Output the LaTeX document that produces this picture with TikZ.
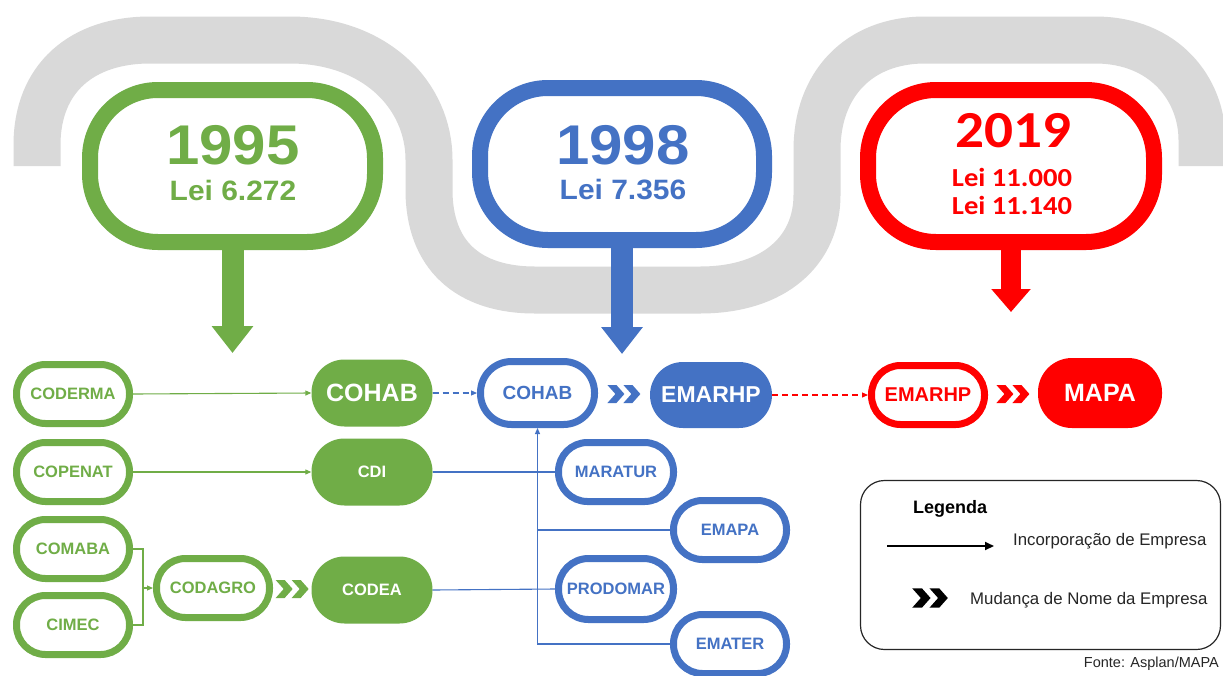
\documentclass[tikz,border=0pt]{standalone}
\usepackage{fontspec}
\setmainfont{Liberation Sans}
\newfontfamily\calib{Carlito}
\usetikzlibrary{arrows.meta,calc}
\definecolor{gg}{HTML}{70AD47}
\definecolor{bb}{HTML}{4472C4}
\definecolor{rr}{HTML}{FF0000}
\definecolor{band}{HTML}{D9D9D9}
\definecolor{legtxt}{HTML}{262626}
\begin{document}
\begin{tikzpicture}[x=1pt,y=-1pt,
  outl/.style={draw=#1, line width=7pt, fill=white, rounded corners=29pt,
    minimum width=113pt, minimum height=59pt, text=#1, inner sep=0pt,
    font=\bfseries\fontsize{16.5}{18}\selectfont},
  filld/.style={fill=#1, text=white, rounded corners=33pt,
    minimum width=121pt, minimum height=67pt, inner sep=0pt,
    font=\bfseries\fontsize{16.5}{18}\selectfont},
  callout/.style={draw=#1, line width=16pt, fill=white, rounded corners=68pt,
    minimum width=285pt, minimum height=152pt},
  conn/.style={line width=1.1pt},
  connarr/.style={line width=1.1pt, -{Triangle[length=6pt,width=5pt]}},
  dchev/.pic={
    \fill (-16.5,-9) -- (-7.5,-9) -- (0.5,0) -- (-7.5,9) -- (-16.5,9) -- (-8.5,0) -- cycle;
    \fill (-0.5,-9) -- (8.5,-9) -- (16.5,0) -- (8.5,9) -- (-0.5,9) -- (7.5,0) -- cycle;
  }]
\useasboundingbox (0,0) rectangle (1223,675);
\clip (0,0) rectangle (1223,675);
\fill[white] (0,0) rectangle (1223,675);

% grey serpentine band
\draw[band, line width=47pt]
  (37,166) -- (37,145) .. controls (37,78) and (82,40) .. (150,40)
  -- (290,40) .. controls (375,40) and (429,95) .. (429,160)
  -- (429,190) .. controls (429,255) and (468,290) .. (535,290)
  -- (700,290) .. controls (775,290) and (817,250) .. (817,195)
  -- (817,150) .. controls (817,85) and (858,40) .. (925,40)
  -- (1095,40) .. controls (1165,40) and (1202,90) .. (1202,140)
  -- (1202,166);

% callouts
\node[callout=gg] (c95) at (232.5,166) {};
\node[callout=bb, minimum width=284pt] (c98) at (622,164) {};
\node[callout=rr, minimum width=286pt] (c19) at (1011,166) {};

\node[text=gg, inner sep=0pt, xscale=1.07, font=\bfseries\fontsize{56}{56}\selectfont] (y95) at (233,145) {1995};
\node[text=gg, inner sep=0pt, xscale=1.07, font=\bfseries\fontsize{28}{28}\selectfont] (l95) at (233,190) {Lei 6.272};
\node[text=bb, inner sep=0pt, xscale=1.07, font=\bfseries\fontsize{56}{56}\selectfont] (y98) at (623,145) {1998};
\node[text=bb, inner sep=0pt, xscale=1.07, font=\bfseries\fontsize{28}{28}\selectfont] (l98) at (623,190) {Lei 7.356};
\node[text=rr, inner sep=0pt, xscale=1.1, font=\calib\bfseries\fontsize{52}{52}\selectfont] (y19) at (1013,131) {2019};
\node[text=rr, inner sep=0pt, xscale=1.1, font=\calib\bfseries\fontsize{26}{26}\selectfont] (l19a) at (1012,177) {Lei 11.000};
\node[text=rr, inner sep=0pt, xscale=1.1, font=\calib\bfseries\fontsize{26}{26}\selectfont] (l19b) at (1012,205) {Lei 11.140};

\coordinate (t95) at (232.5,353);
\coordinate (t98) at (622,354);
\coordinate (t19) at (1011,312);
\draw[gg, line width=22pt, -{Triangle[length=27pt,width=40pt]}] (c95.south) -- (t95);
\draw[bb, line width=22pt, -{Triangle[length=27pt,width=40pt]}] (c98.south) -- (t98);
\draw[rr, line width=20pt, -{Triangle[length=23pt,width=38pt]}] (c19.south) -- (t19);

% green nodes
\node[outl=gg] (coderma) at (73,394) {CODERMA};
\node[outl=gg] (copenat) at (73,472) {COPENAT};
\node[outl=gg] (comaba) at (73,549) {COMABA};
\node[outl=gg] (cimec) at (73,625) {CIMEC};
\node[outl=gg] (codagro) at (213,588) {CODAGRO};
\node[filld=gg, font=\bfseries\fontsize{25}{27}\selectfont] (cohabG) at (372,393) {COHAB};
\node[filld=gg] (cdi) at (372,472) {CDI};
\node[filld=gg] (codea) at (372,590) {CODEA};

% blue nodes
\node[outl=bb, minimum width=114pt, minimum height=63pt, rounded corners=31pt,
      font=\bfseries\fontsize{19}{21}\selectfont] (cohabB) at (537.5,393) {COHAB};
\node[filld=bb, font=\bfseries\fontsize{23}{25}\selectfont, minimum width=122pt, minimum height=66pt] (emarhpB) at (711,395) {EMARHP};
\node[outl=bb, minimum width=115pt] (maratur) at (616,472) {MARATUR};
\node[outl=bb, minimum width=113pt] (emapa) at (730,530) {EMAPA};
\node[outl=bb, minimum width=115pt, minimum height=61pt, rounded corners=30pt] (prodomar) at (616,589) {PRODOMAR};
\node[outl=bb, minimum width=113pt] (emater) at (730,644) {EMATER};

% red nodes
\node[outl=rr, font=\bfseries\fontsize{20}{22}\selectfont] (emarhpR) at (928,395) {EMARHP};
\node[filld=rr, font=\bfseries\fontsize{25}{27}\selectfont, minimum width=124pt, minimum height=70pt, rounded corners=34pt] (mapa) at (1100,393) {MAPA};

% green connectors
\draw[gg, connarr] (coderma.east) -- (cohabG.west);
\draw[gg, connarr] (copenat.east) -- (cdi.west);
\coordinate (jb) at ($(comaba.east)+(10,0)$);
\draw[gg, conn] (comaba.east) -- (jb) |- (cimec.east);
\draw[gg, connarr] (jb |- codagro.west) -- (codagro.west);
\pic[color=gg] at ($(codagro.east)!0.5!(codea.west)$) {dchev};

% blue connectors
\draw[bb, connarr, dash pattern=on 6pt off 4pt] (cohabG.east) -- (cohabB.west);
\pic[color=bb] at ($(cohabB.east)!0.5!(emarhpB.west)$) {dchev};
\coordinate (jemapa) at (cohabB.south |- emapa.west);
\coordinate (jemater) at (cohabB.south |- emater.west);
\draw[bb, conn] (cdi.east) -- (maratur.west);
\draw[bb, conn] (codea.east) -- (prodomar.west);
\draw[bb, conn] (emapa.west) -- (jemapa);
\draw[bb, connarr] (emater.west) -- (jemater) -- (cohabB.south);

% red connectors
\draw[rr, connarr, dash pattern=on 6pt off 4pt] (emarhpB.east) -- (emarhpR.west);
\pic[color=rr] at ($(emarhpR.east)!0.5!(mapa.west)$) {dchev};

% legend
\node[draw=legtxt, line width=1.2pt, rounded corners=24pt, minimum width=360pt,
      minimum height=169pt] (legend) at (1040.5,565) {};
\node[anchor=base west, inner sep=0pt, text=black, font=\bfseries\fontsize{18}{20}\selectfont] (legtitle) at (913,513) {Legenda};
\coordinate (la1) at (887,546);
\coordinate (la2) at (994,546);
\draw[black, line width=2pt, -{Triangle[length=9pt,width=8pt]}] (la1) -- (la2);
\node[anchor=base west, inner sep=0pt, text=legtxt, font=\fontsize{16.8}{19}\selectfont] (leg1) at (1013,545) {Incorporação de Empresa};
\pic[color=black, scale=1.08] (legchev) at (930,598) {dchev};
\node[anchor=base west, inner sep=0pt, text=legtxt, font=\fontsize{16.8}{19}\selectfont] (leg2) at (970,604) {Mudança de Nome da Empresa};
\node[anchor=north east, inner sep=0pt, text=legtxt, font=\fontsize{14.5}{17}\selectfont] (fonte) at (1219,657) {Fonte: Asplan/MAPA};
\end{tikzpicture}
\end{document}
